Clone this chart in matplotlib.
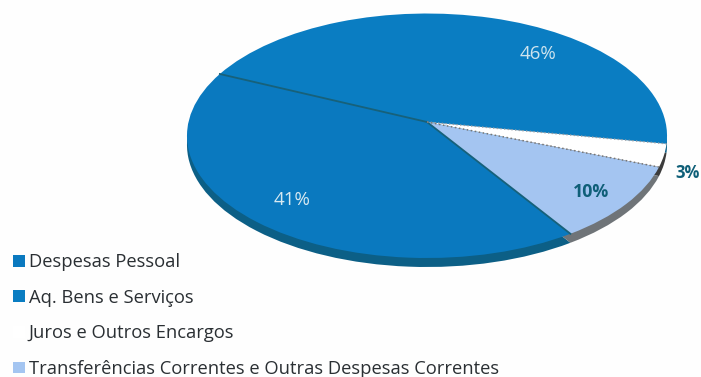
import numpy as np
import matplotlib
matplotlib.use("Agg")
import matplotlib.pyplot as plt
from matplotlib.transforms import Transform

plt.rcParams['font.family'] = ['Open Sans', 'DejaVu Sans']

categories = ["Despesas Pessoal", "Aq. Bens e Serviços", "Juros e Outros Encargos",
              "Transferências Correntes e Outras Despesas Correntes"]
values = [41, 46, 3, 10]
face_colors = ["#0a79bf", "#0a7dc2", "#ffffff", "#a4c5f1"]
rim_colors = ["#0c5f86", "#0c5f86", "#3c3c3c", "#6f7478"]
START = 303


class Tilted(Transform):
    # flat pie seen from an angle: far side squeezed, centre pushed back
    input_dims = 2
    output_dims = 2

    def __init__(self, cx, cy, sx, sy, k):
        super().__init__()
        self.cx, self.cy, self.sx, self.sy, self.k = cx, cy, sx, sy, k

    def transform_non_affine(self, xy):
        xy = np.asarray(xy, dtype=float)
        w = 1 + self.k * xy[:, 1]
        return np.column_stack((self.cx + self.sx * xy[:, 0] / w,
                                self.cy - self.sy * xy[:, 1] / w))


fig = plt.figure(figsize=(7.01, 3.77), dpi=100, facecolor="#fefefe")
ax = fig.add_axes([0, 0, 1, 1])

top_face = Tilted(427, 122, 238.5, 120.7, 0.1125)
rim = Tilted(427, 131, 238.5, 120.7, 0.1125)

# side of the pie first, then the top face over it
rim_wedges, _ = ax.pie(values, startangle=START, counterclock=False, colors=rim_colors)
wedges, _ = ax.pie(values, startangle=START, counterclock=False, colors=face_colors)
for w in rim_wedges:
    w.set_transform(rim + ax.transData)
    w.set_zorder(1)
for w in wedges:
    w.set_transform(top_face + ax.transData)
    w.set_zorder(2)

ax.set_aspect("auto")
ax.set_xlim(0, 701)
ax.set_ylim(377, 0)
ax.axis("off")

# slice borders: dark between the blue slices, dotted around the white one
edges = START - 3.6 * np.cumsum([0] + values)
for angle, style in zip(edges[:4], [("#17617a", "-", 1.3), ("#17617a", "-", 1.3),
                                    ("#9aa0a8", ":", 1.0), ("#777777", ":", 1.1)]):
    a = np.deg2rad(angle)
    ax.plot([0, np.cos(a)], [0, np.sin(a)], color=style[0], ls=style[1], lw=style[2],
            transform=top_face + ax.transData, zorder=3)

ax.text(538, 54, "46%", color="#cfe4ee", fontsize=13.5, ha="center", va="center", zorder=4)
ax.text(292, 200, "41%", color="#d8e9f1", fontsize=13.5, ha="center", va="center", zorder=4)
ax.text(591, 192, "10%", color="#0f5f78", fontsize=12.8, fontweight="bold", ha="center", va="center", zorder=4)
ax.text(688, 173, "3%", color="#0f5f78", fontsize=12, fontweight="bold", ha="center", va="center", zorder=4)

ax.legend(wedges, categories, loc="lower left", bbox_to_anchor=(13 / 701, -1 / 377),
          bbox_transform=fig.transFigure, frameon=False, borderpad=0, borderaxespad=0,
          fontsize=13.2, handlelength=0.66, handleheight=0.62, handletextpad=0.2,
          labelspacing=0.96, labelcolor="#2a2f33")

fig.savefig("out.png", dpi=100, facecolor=fig.get_facecolor())
